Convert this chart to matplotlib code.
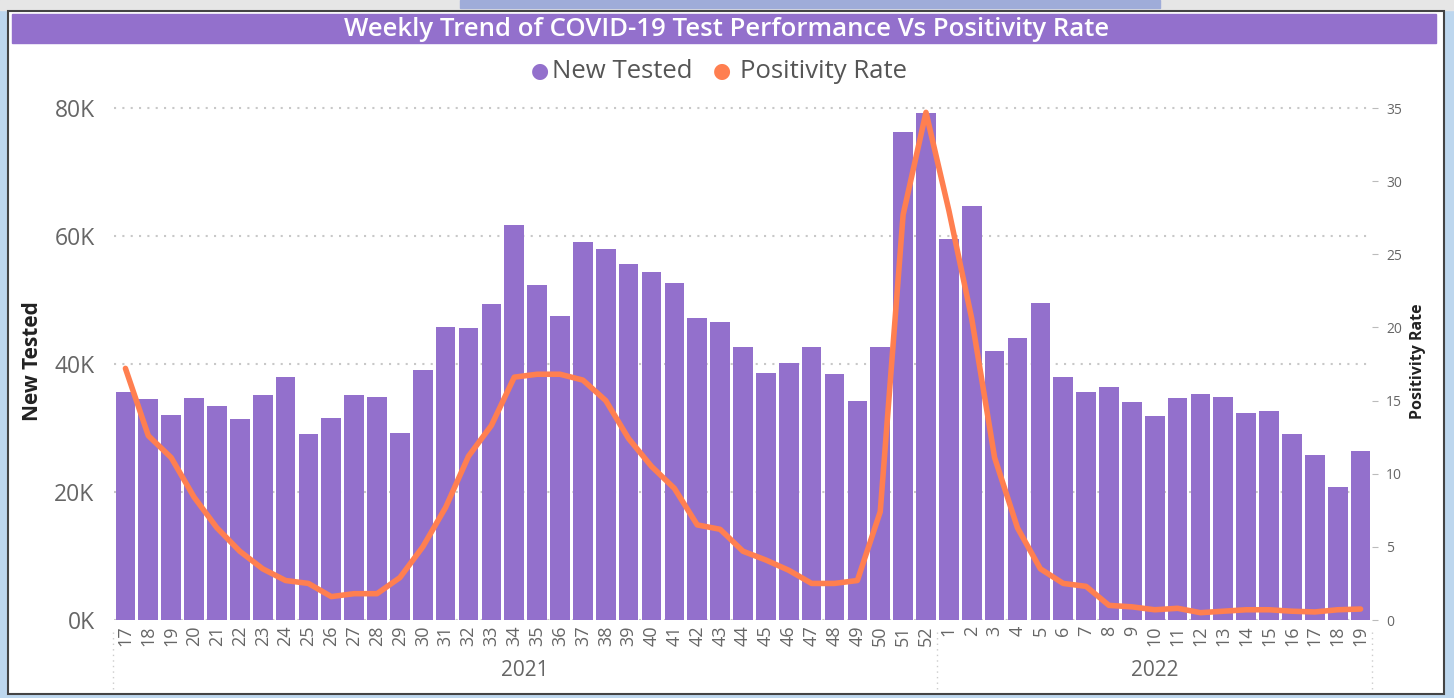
import numpy as np
import matplotlib
matplotlib.use('Agg')
import matplotlib.pyplot as plt
from matplotlib.patches import Rectangle
from matplotlib.lines import Line2D

# week labels: 2021 weeks 17-52, 2022 weeks 1-19
weeks_2021 = list(range(17, 53))
weeks_2022 = list(range(1, 20))
week_labels = [str(w) for w in weeks_2021 + weeks_2022]

new_tested = [35.7, 34.5, 32.1, 34.7, 33.4, 31.4, 35.1, 37.9, 29.0, 31.6,
              35.1, 34.9, 29.2, 39.0, 45.8, 45.6, 49.3, 61.7, 52.3, 47.5,
              59.1, 58.0, 55.6, 54.3, 52.6, 47.2, 46.5, 42.6, 38.6, 40.2,
              42.6, 38.4, 34.2, 42.7, 76.3, 79.2,
              59.6, 64.7, 42.1, 44.1, 49.6, 37.9, 35.7, 36.4, 34.0, 31.8,
              34.7, 35.3, 34.9, 32.3, 32.7, 29.0, 25.8, 20.8, 26.4]
new_tested = [v * 1000 for v in new_tested]

positivity = [17.2, 12.6, 11.1, 8.4, 6.3, 4.7, 3.5, 2.7, 2.5, 1.6,
              1.8, 1.8, 2.9, 5.0, 7.7, 11.2, 13.3, 16.6, 16.8, 16.8,
              16.4, 15.0, 12.4, 10.5, 9.0, 6.5, 6.2, 4.7, 4.1, 3.4,
              2.5, 2.5, 2.7, 7.4, 27.7, 34.7,
              28.0, 20.6, 11.1, 6.3, 3.5, 2.5, 2.3, 1.0, 0.9, 0.7,
              0.8, 0.5, 0.6, 0.7, 0.7, 0.6, 0.55, 0.7, 0.75]

left_ticks = [0, 20000, 40000, 60000, 80000]
left_tick_labels = ['0K', '20K', '40K', '60K', '80K']
right_ticks = [0, 5, 10, 15, 20, 25, 30, 35]

purple = '#9370CC'
coral = '#FF7F50'
grey = '#666666'

W, H = 1454, 698
fig = plt.figure(figsize=(W / 100, H / 100), dpi=100)
plt.rcParams['font.family'] = ['Open Sans', 'DejaVu Sans']


def fx(px):
    return px / W


def fy(py):
    return 1 - py / H


# outer frame bits
fig.patches.append(Rectangle((0, 0), 1, 1, transform=fig.transFigure, color='#BDD7EE', zorder=-10))
fig.patches.append(Rectangle((0, fy(10)), 1, 10 / H, transform=fig.transFigure, color='#E6E6E6', zorder=-9))
fig.patches.append(Rectangle((fx(460), fy(8)), 700 / W, 8 / H, transform=fig.transFigure, color='#9FACD9', zorder=-8))
fig.patches.append(Rectangle((fx(8), fy(694)), 1436 / W, 683 / H, transform=fig.transFigure,
                             facecolor='white', edgecolor='#444444', lw=1.5, zorder=-7))
# title band
fig.patches.append(Rectangle((fx(12), fy(43)), 1424 / W, 29 / H, transform=fig.transFigure, color=purple, zorder=-6))
fig.text(fx(727), fy(29), 'Weekly Trend of COVID-19 Test Performance Vs Positivity Rate',
         color='white', fontsize=18.5, fontweight='semibold', ha='center', va='center')

# legend
fig.text(fx(549), fy(72), '\u25CF', color=purple, fontsize=15, ha='right', va='center')
fig.text(fx(552), fy(71), 'New Tested', color='#555555', fontsize=18.5, ha='left', va='center')
fig.text(fx(731), fy(72), '\u25CF', color=coral, fontsize=15, ha='right', va='center')
fig.text(fx(740), fy(71), 'Positivity Rate', color='#555555', fontsize=18.5, ha='left', va='center')

# main axes
x0, x1, ybot = 114, 1372, 620
ymax = 81000
ytop = ybot - ymax * 6.4 / 1000
ax = fig.add_axes([fx(x0), fy(ybot), (x1 - x0) / W, (ybot - ytop) / H])
ax.set_facecolor('none')
x = np.arange(len(week_labels))
ax.bar(x, new_tested, width=0.86, color=purple, zorder=2)
ax.set_xlim(-0.5, len(week_labels) - 0.5)
ax.set_ylim(0, ymax)
ax.set_yticks(left_ticks)
ax.set_yticklabels(left_tick_labels, fontsize=16.5, color=grey)
ax.yaxis.grid(True, color='#C8C8C8', linestyle=(0, (1, 3)), lw=1.5, zorder=0)
ax.set_xticks(x)
ax.set_xticklabels(week_labels, rotation=90, fontsize=13, color=grey)
ax.tick_params(axis='both', length=0)
ax.tick_params(axis='y', pad=14)
ax.tick_params(axis='x', pad=4)
for s in ax.spines.values():
    s.set_visible(False)
ax.set_ylabel('New Tested', fontsize=15, fontweight='bold', color='#222222', labelpad=8)

ax2 = ax.twinx()
ax2.plot(x, positivity, color=coral, lw=4, solid_joinstyle='round', solid_capstyle='round', zorder=3)
ax2.set_ylim(0, 35 * ymax / 80000)
ax2.set_yticks(right_ticks)
ax2.set_yticklabels([str(t) for t in right_ticks], fontsize=10, color=grey)
ax2.tick_params(axis='y', length=4, color='#BBBBBB', pad=6, direction='out')
for s in ax2.spines.values():
    s.set_visible(False)
ax2.set_ylabel('Positivity Rate', fontsize=11.5, fontweight='bold', color='#222222', labelpad=6)

# year labels and separators
sep_px = [113, 937, 1372]
for px in sep_px:
    fig.lines.append(Line2D([fx(px), fx(px)], [fy(632), fy(690)], transform=fig.transFigure,
                            color='#CCCCCC', lw=1, linestyle=(0, (1, 3))))
fig.text(fx(525), fy(670), '2021', fontsize=15, color=grey, ha='center', va='center')
fig.text(fx(1155), fy(670), '2022', fontsize=15, color=grey, ha='center', va='center')

fig.savefig('out.png', dpi=100)
